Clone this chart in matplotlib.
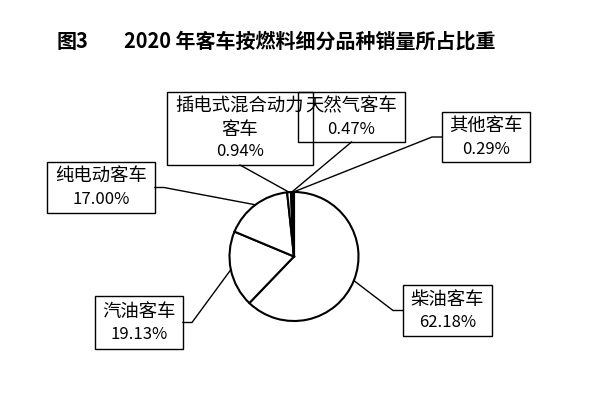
import matplotlib
matplotlib.use("Agg")
import matplotlib.pyplot as plt
from matplotlib.patches import Rectangle
import numpy as np

plt.rcParams['font.family'] = ['Noto Sans CJK SC', 'DejaVu Sans']

# ---- data ----
categories = ["柴油客车", "汽油客车", "纯电动客车", "插电式混合动力客车", "天然气客车", "其他客车"]
shares = [62.18, 19.13, 17.00, 0.94, 0.47, 0.29]
title_prefix = "图3"
title_text = "2020 年客车按燃料细分品种销量所占比重"

# label lines as displayed (name may wrap)
label_names = [["柴油客车"], ["汽油客车"], ["纯电动客车"], ["插电式混合动力", "客车"], ["天然气客车"], ["其他客车"]]

W, H = 600, 402
fig = plt.figure(figsize=(6.0, 4.02), dpi=100)
ax = fig.add_axes([0, 0, 1, 1])
ax.set_xlim(0, W)
ax.set_ylim(0, H)
ax.set_aspect('equal')
ax.axis('off')

def Y(py):
    return H - py

cx, cy, R = 294, Y(257.5), 64.5
wedges, _ = ax.pie(shares, startangle=90, counterclock=False, center=(cx, cy), radius=R,
                   colors=['white'] * len(shares),
                   wedgeprops=dict(edgecolor='black', linewidth=1.5))
ax.set_xlim(0, W)
ax.set_ylim(0, H)

# box layout (pixel coords: x0, x1, y0, y1) and leader attach side
boxes = [
    (403, 492, 286, 337, 'left'),
    (95, 183, 297, 350, 'right'),
    (47, 155, 163, 214, 'right'),
    (167, 313, 93, 166, 'bottom'),
    (298, 405, 93, 143, 'bottom'),
    (442, 530, 113, 163, 'left'),
]

fs_name = 13.2
fs_pct = 12.0
for w, names, share, (x0, x1, y0, y1, side) in zip(wedges, label_names, shares, boxes):
    ax.add_patch(Rectangle((x0, Y(y1)), x1 - x0, y1 - y0, fill=False,
                           edgecolor='black', linewidth=1.0, zorder=3))
    lines = names + ["{:.2f}%".format(share)]
    n = len(lines)
    ymid = (y0 + y1) / 2
    step = 22.5
    for i, t in enumerate(lines):
        py = ymid + (i - (n - 1) / 2) * step
        fs = fs_pct if i == n - 1 else fs_name
        ax.text((x0 + x1) / 2, Y(py), t, ha='center', va='center', fontsize=fs, zorder=4)
    # leader line
    ang = np.deg2rad((w.theta1 + w.theta2) / 2)
    sx, sy = cx + R * np.cos(ang), cy + R * np.sin(ang)
    if side == 'left':
        ex, ey = x0, Y(ymid)
        pts = [(sx, sy), (ex - 10, ey), (ex, ey)]
    elif side == 'right':
        ex, ey = x1, Y(ymid)
        pts = [(sx, sy), (ex + 9, ey), (ex, ey)]
    else:
        ex, ey = (x0 + x1) / 2, Y(y1)
        pts = [(sx, sy), (ex, ey)]
    xs, ys = zip(*pts)
    ax.plot(xs, ys, color='black', linewidth=1.0, zorder=2)

ax.text(57, Y(41), title_prefix, ha='left', va='center', fontsize=14.4, fontweight='bold')
ax.text(124, Y(41), title_text, ha='left', va='center', fontsize=14.4, fontweight='bold')

fig.savefig("out.png", dpi=100, facecolor='white')
